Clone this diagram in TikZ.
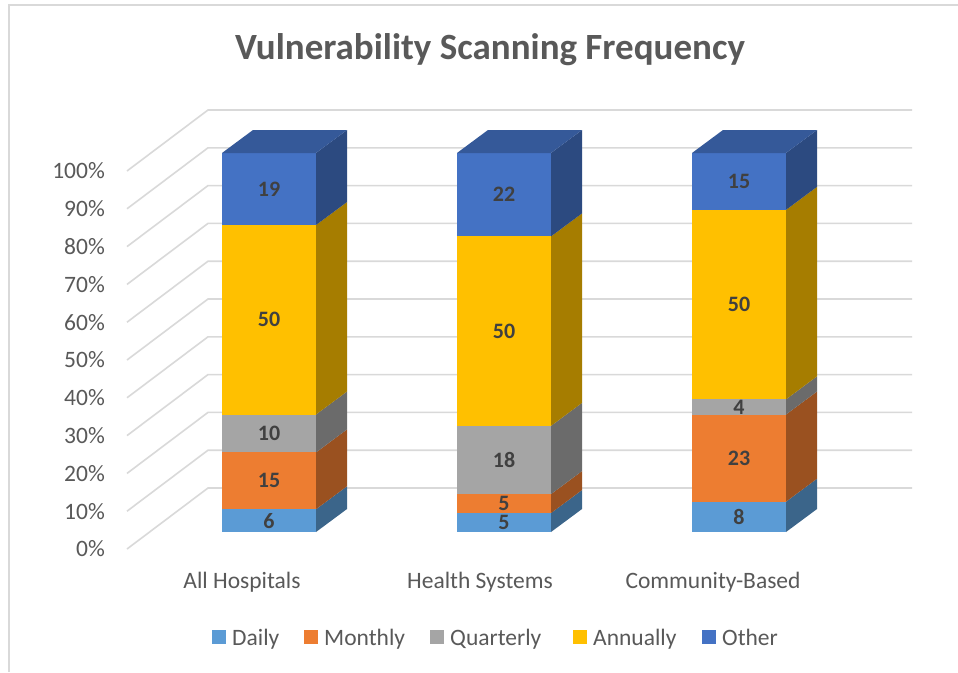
\documentclass[tikz,border=0pt]{standalone}
\usepackage{fontspec}
\setmainfont{Carlito}
\usepackage{tikz}
\usetikzlibrary{positioning,calc}
\usepackage{xcolor}
\definecolor{daily}{HTML}{5B9BD5}
\definecolor{monthly}{HTML}{ED7D31}
\definecolor{quarterly}{HTML}{A5A5A5}
\definecolor{annually}{HTML}{FFC000}
\definecolor{other}{HTML}{4472C4}
\definecolor{gridgray}{HTML}{D9D9D9}
\definecolor{axtext}{HTML}{595959}
\definecolor{valtext}{HTML}{404040}
% one stacked column: #1 left x, #2 name, #3 list lo/hi/colour
\newcommand{\stackbar}[3]{%
  \foreach \lo/\hi/\col [count=\i] in {#3} {
    \fill[\col] (#1,{532-3.79*\lo}) rectangle ({#1+94},{532-3.79*\hi});
    \fill[\col!65!black] ({#1+94},{532-3.79*\lo}) -- ({#1+125},{509-3.79*\lo})
      -- ({#1+125},{509-3.79*\hi}) -- ({#1+94},{532-3.79*\hi}) -- cycle;
    \pgfmathtruncatemacro{\dv}{\hi-\lo}
    \node[val] (#2\i) at ({#1+47},{532-3.79*(\lo+\hi)/2}) {\dv};
  }
  \fill[other!78!black] (#1,153) -- ({#1+31},130) -- ({#1+125},130) -- ({#1+94},153) -- cycle;
}
\begin{document}
\begin{tikzpicture}[x=1pt, y=-1pt,
    grid/.style={draw=gridgray, line width=1.6pt},
    axlbl/.style={font=\fontsize{23.5}{26}\selectfont, text=axtext, inner sep=0pt},
    val/.style={font=\fontsize{22}{24}\selectfont\bfseries, text=valtext, inner sep=0pt},
    key/.style={minimum size=14pt, inner sep=0pt}
]
\useasboundingbox (0,0) rectangle (958,672);
\fill[white] (0,0) rectangle (958,672);
\draw[grid] (9,672) -- (9,5) -- (958,5);
\node[font=\fontsize{37}{40}\selectfont\bfseries, text=axtext, inner sep=0pt] (title) at (490,50)
    {Vulnerability Scanning Frequency};
\foreach \p in {0,...,10} {
  \pgfmathtruncatemacro{\pv}{10*\p}
  \draw[grid] (127,{549-37.8*\p}) -- (208,{488-37.8*\p}) -- (912,{488-37.8*\p});
  \node[axlbl, anchor=east] (pct\p) at (105,{549-37.8*\p}) {\pv\%};
}
\stackbar{222}{hosp}{0/6/daily, 6/21/monthly, 21/31/quarterly, 31/81/annually, 81/100/other}
\stackbar{457}{sys}{0/5/daily, 5/10/monthly, 10/28/quarterly, 28/78/annually, 78/100/other}
\stackbar{692}{comm}{0/8/daily, 8/31/monthly, 31/35/quarterly, 35/85/annually, 85/100/other}
\node[axlbl, anchor=base] (cat1) at (242,588) {All Hospitals};
\node[axlbl, anchor=base] (cat2) at (480,588) {Health Systems};
\node[axlbl, anchor=base] (cat3) at (713,588) {Community-Based};
\foreach \col/\txt/\kx in {daily/Daily/212, monthly/Monthly/304, quarterly/Quarterly/430,
    annually/Annually/573, other/Other/702} {
  \node[key, fill=\col] (key\txt) at ({\kx+7},637) {};
  \node[axlbl, anchor=base west] (lab\txt) at ({\kx+20},645) {\txt};
}
\end{tikzpicture}
\end{document}
